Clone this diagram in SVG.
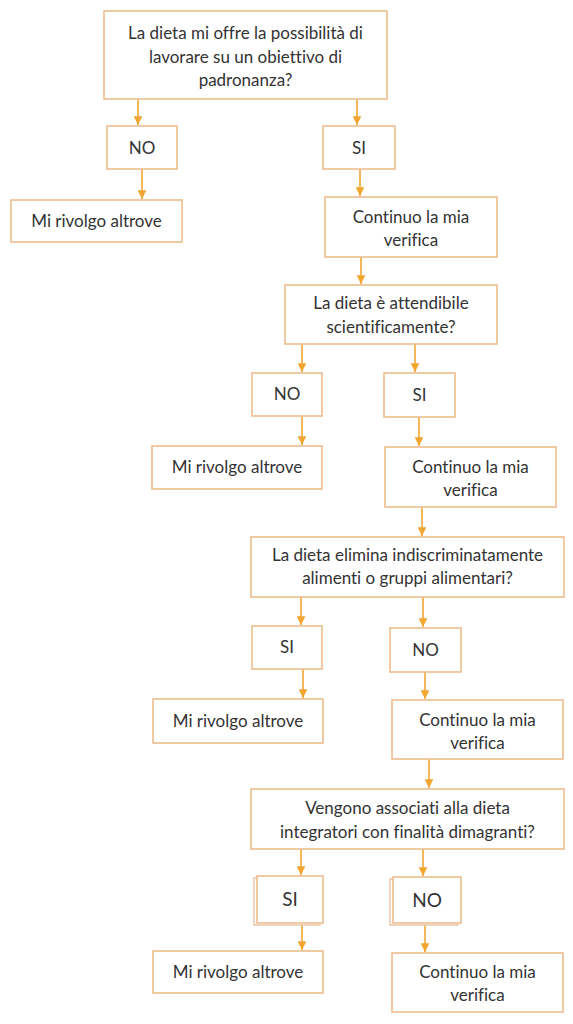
<svg xmlns="http://www.w3.org/2000/svg" width="573" height="1024" viewBox="0 0 573 1024">
<style>
.b{fill:#fff;stroke:#ecbd8e;stroke-width:1.6}
.s{fill:none;stroke:#e9c4a0;stroke-width:1.4}
.t{font-family:Lato,"Open Sans","Liberation Sans",sans-serif;font-size:17px;fill:#333;text-anchor:middle;font-variant-ligatures:none}
.c line{stroke:#f2a531;stroke-width:1.6}
</style>
<defs>
<marker id="ah" viewBox="0 0 10 10" refX="10" refY="5" markerWidth="5.5" markerHeight="5.5" orient="auto" markerUnits="strokeWidth">
<path d="M0,0 L10,5 L0,10 z" fill="#f2a531"/>
</marker>
</defs>
<rect width="573" height="1024" fill="#fff"/>
<g class="c" id="connectors">
<line x1="138" y1="99" x2="138" y2="125" marker-end="url(#ah)"/>
<line x1="357" y1="99" x2="357" y2="125" marker-end="url(#ah)"/>
<line x1="142" y1="169" x2="142" y2="199" marker-end="url(#ah)"/>
<line x1="360" y1="169" x2="360" y2="196" marker-end="url(#ah)"/>
<line x1="361" y1="257" x2="361" y2="284" marker-end="url(#ah)"/>
<line x1="302" y1="344" x2="302" y2="372" marker-end="url(#ah)"/>
<line x1="415" y1="344" x2="415" y2="372" marker-end="url(#ah)"/>
<line x1="302" y1="416" x2="302" y2="445" marker-end="url(#ah)"/>
<line x1="419" y1="417" x2="419" y2="446" marker-end="url(#ah)"/>
<line x1="422" y1="507" x2="422" y2="536" marker-end="url(#ah)"/>
<line x1="301" y1="597" x2="301" y2="625" marker-end="url(#ah)"/>
<line x1="423" y1="597" x2="423" y2="627" marker-end="url(#ah)"/>
<line x1="303" y1="669" x2="303" y2="698" marker-end="url(#ah)"/>
<line x1="425" y1="672" x2="425" y2="699" marker-end="url(#ah)"/>
<line x1="429" y1="759" x2="429" y2="788" marker-end="url(#ah)"/>
<line x1="301" y1="849" x2="301" y2="875" marker-end="url(#ah)"/>
<line x1="423" y1="849" x2="423" y2="876" marker-end="url(#ah)"/>
<line x1="302" y1="925" x2="302" y2="950" marker-end="url(#ah)"/>
<line x1="425" y1="925" x2="425" y2="952" marker-end="url(#ah)"/>
</g>
<g id="q1"><rect class="b" x="104" y="11" width="283" height="88"/>
<text class="t" x="245.5" y="39">La dieta mi offre la possibilità di</text>
<text class="t" x="245.5" y="63">lavorare su un obiettivo di</text>
<text class="t" x="245.5" y="86">padronanza?</text></g>
<g id="no1"><rect class="b" x="107" y="126" width="70" height="43"/><text class="t" x="142" y="154">NO</text></g>
<g id="si1"><rect class="b" x="323" y="126" width="72" height="43"/><text class="t" x="359" y="154">SI</text></g>
<g id="alt1"><rect class="b" x="11" y="200" width="171" height="42"/><text class="t" x="96.5" y="227">Mi rivolgo altrove</text></g>
<g id="cont1"><rect class="b" x="325" y="197" width="172" height="60"/>
<text class="t" x="411" y="223">Continuo la mia</text><text class="t" x="411" y="246">verifica</text></g>
<g id="q2"><rect class="b" x="285" y="285" width="212" height="59"/>
<text class="t" x="391" y="309">La dieta è attendibile</text><text class="t" x="391" y="333">scientificamente?</text></g>
<g id="no2"><rect class="b" x="252" y="373" width="70" height="43"/><text class="t" x="287" y="400">NO</text></g>
<g id="si2"><rect class="b" x="384" y="373" width="71" height="44"/><text class="t" x="419.5" y="401">SI</text></g>
<g id="alt2"><rect class="b" x="152" y="446" width="170" height="43"/><text class="t" x="237" y="473">Mi rivolgo altrove</text></g>
<g id="cont2"><rect class="b" x="385" y="447" width="171" height="60"/>
<text class="t" x="470.5" y="473">Continuo la mia</text><text class="t" x="470.5" y="496">verifica</text></g>
<g id="q3"><rect class="b" x="251" y="537" width="313" height="60"/>
<text class="t" x="407.5" y="561">La dieta elimina indiscriminatamente</text><text class="t" x="407.5" y="584">alimenti o gruppi alimentari?</text></g>
<g id="si3"><rect class="b" x="252" y="626" width="70" height="43"/><text class="t" x="287" y="653">SI</text></g>
<g id="no3"><rect class="b" x="390" y="628" width="71" height="44"/><text class="t" x="425.5" y="656">NO</text></g>
<g id="alt3"><rect class="b" x="153" y="699" width="170" height="44"/><text class="t" x="238" y="727">Mi rivolgo altrove</text></g>
<g id="cont3"><rect class="b" x="392" y="700" width="171" height="59"/>
<text class="t" x="477.5" y="726">Continuo la mia</text><text class="t" x="477.5" y="749">verifica</text></g>
<g id="q4"><rect class="b" x="251" y="789" width="313" height="60"/>
<text class="t" x="407.5" y="814">Vengono associati alla dieta</text><text class="t" x="407.5" y="838">integratori con finalità dimagranti?</text></g>
<g id="si4"><rect class="s" x="254" y="878" width="66" height="47"/><rect class="b" x="257" y="876" width="66" height="47"/><text class="t" x="290" y="906" style="font-size:19px">SI</text></g>
<g id="no4"><rect class="s" x="390" y="879" width="68" height="46"/><rect class="b" x="393" y="877" width="68" height="46"/><text class="t" x="427" y="907" style="font-size:19px">NO</text></g>
<g id="alt4"><rect class="b" x="153" y="951" width="170" height="42"/><text class="t" x="238" y="978">Mi rivolgo altrove</text></g>
<g id="cont4"><rect class="b" x="392" y="953" width="171" height="59"/>
<text class="t" x="477.5" y="978">Continuo la mia</text><text class="t" x="477.5" y="1001">verifica</text></g>
</svg>
